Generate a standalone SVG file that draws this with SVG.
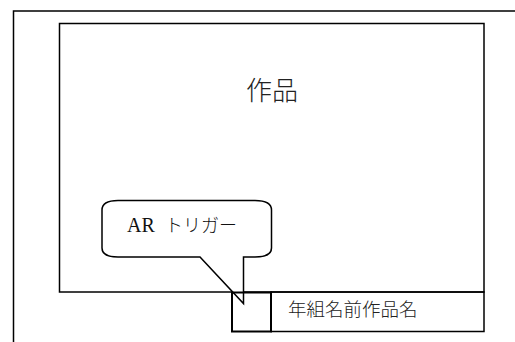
<svg xmlns="http://www.w3.org/2000/svg" width="515" height="342" viewBox="0 0 515 342">
<style>
.ln{fill:none;stroke:#000;stroke-width:1.5}
.bx{fill:none;stroke:#000;stroke-width:2}
.jp{font-family:"Noto Sans CJK JP","Noto Sans CJK SC",sans-serif;fill:#222;font-weight:300}
.ar{font-family:"Liberation Serif","Noto Sans CJK JP",serif;fill:#111}
</style>
<rect width="515" height="342" fill="#fff"/>
<g id="page">
<rect class="ln" x="13.5" y="11" width="520" height="340"/>
</g>
<g id="artwork">
<rect class="ln" x="59.5" y="23.5" width="424.5" height="268.5"/>
<text class="jp" x="272" y="100" font-size="26" text-anchor="middle">作品</text>
</g>
<g id="callout">
<path class="ln" style="fill:#fff" d="M118,200.5 H255 Q271.5,200.5 271.5,210 V248 Q271.5,257 255,257 H243.5 V303.5 L200,257 H118 Q102,257 102,248 V210 Q102,200.5 118,200.5 Z"/>
<text class="ar" x="127" y="231.5" font-size="20">AR<tspan x="165" font-family="Noto Sans CJK JP,sans-serif" font-weight="300" font-size="18">トリガー</tspan></text>
</g>
<g id="trigger">
<rect class="bx" x="232" y="292.5" width="39" height="39"/>
</g>
<g id="namebox">
<rect class="ln" x="271" y="292" width="213" height="39.5"/>
<text class="jp" x="288" y="316" font-size="18.5">年組名前作品名</text>
</g>
<g id="connectors"></g>
</svg>
